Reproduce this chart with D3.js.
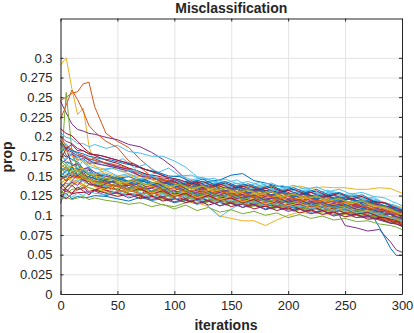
<!DOCTYPE html>
<html>
<head>
<meta charset="utf-8">
<script src="https://cdn.jsdelivr.net/npm/d3@7"></script>
<style>
  body { margin: 0; background: #fff; }
  svg text { font-family: "Liberation Sans", Arial, Helvetica, sans-serif; fill: #262626; }
</style>
</head>
<body>
<div id="chart"></div>
<script>
// iterations at which the runs were sampled (two sampling grids)
const iterations = [0, 5, 10, 15, 20, 25, 30, 40, 50, 60, 70, 80, 90, 100, 110, 120, 130, 140, 150, 160, 170, 180, 190, 200, 210, 220, 230, 240, 250, 260, 270, 280, 290, 295, 300];
const iterationsB = [0, 5, 10, 15, 20, 25, 35, 45, 55, 65, 75, 85, 95, 105, 115, 125, 135, 145, 155, 165, 175, 185, 195, 205, 215, 225, 235, 245, 255, 265, 275, 285, 292, 296, 300];

// misclassification proportion per run, in thousandths
const run00 = [192,176,171,168,159,161,150, 152,147,149,144,148,146,141, 143,139,142,137,139,134,136, 131,133,127,130,125,127,122, 124,119,117,113,110,106,104];
const run01 = [246,250,255,257,267,269,238, 204,194,186,171,159,151,142, 139,133,132,128,127,123,123, 119,119,116,116,112,113,109, 109,105,104,99,98,93,92];
const run02 = [291,300,261,228,236,188,163, 151,145,143,139,140,137,138, 136,137,135,137,134,136,137, 136,137,135,137,134,136,135, 135,133,133,135,134,131,128];
const run03 = [245,230,216,209,207,204,203, 199,196,190,187,180,171,160, 146,137,134,129,129,125,125, 121,122,118,119,115,116,112, 112,108,107,102,101,97,96];
const run04 = [150,256,182,158,152,144,141, 135,133,127,125,118,113,111, 116,121,118,118,115,116,112, 113,110,111,108,109,106,107, 103,103,99,99,94,95,91];
const run05 = [205,199,197,191,191,187,190, 185,189,181,179,175,175,169, 161,149,146,139,138,133,133, 129,129,125,125,121,121,117, 116,111,111,107,106,102,101];
const run06 = [170,185,163,166,152,158,146, 144,131,141,126,137,139,131, 121,131,125,135,122,129,116, 124,112,119,121,111,117,108, 110,114,101,106,97,101,94];
const run07 = [125,128,121,124,122,123,125, 124,121,118,123,119,121,116, 119,114,118,112,116,110,114, 108,111,107,109,104,106,101, 103,100,97,95,90,92,88];
const run08 = [222,240,259,247,232,214,206, 194,186,169,161,149,146,139, 137,133,134,130,130,126,127, 123,124,120,121,117,118,114, 114,110,110,105,104,100,99];
const run09 = [160,151,144,141,137,135,132, 131,127,128,124,125,121,121, 117,116,111,99,96,93,93, 87,94,100,104,102,103,100, 101,97,98,94,94,90,90];
const run10 = [115,136,144,151,147,146,141, 141,137,138,134,134,131,131, 127,128,125,125,122,123,119, 120,117,118,115,116,112,113, 87,84,80,82,66,56,53];
const run11 = [140,146,149,148,143,139,139, 132,136,129,134,126,131,124, 128,122,126,125,117,120,121, 113,118,112,116,108,113,109, 104,106,103,98,97,93,95];
const run12 = [155,163,169,176,167,161,154, 151,144,143,139,140,137,137, 133,126,111,98,108,116,116, 117,113,114,111,112,109,110, 106,106,102,102,97,97,94];
const run13 = [180,174,178,170,172,166,168, 163,160,158,152,150,146,139, 144,137,140,134,138,131,134, 129,132,126,128,123,125,119, 121,116,117,110,108,104,103];
const run14 = [160,157,163,164,159,154,153, 147,147,143,144,140,141,138, 139,140,143,145,151,153,144, 141,137,136,129,129,125,125, 121,119,110,85,58,49,49];
const run15 = [135,141,137,143,139,130,135, 128,132,124,129,121,127,119, 124,117,122,114,119,113,116, 109,113,106,111,104,108,101, 104,99,100,95,92,89,88];
const run16 = [175,169,166,159,159,154,151, 154,149,151,146,149,143,146, 141,144,139,141,136,139,134, 137,131,134,129,131,126,128, 123,125,120,118,114,112,110];
const run17 = [200,194,191,185,182,178,176, 172,168,165,158,154,146,143, 134,139,131,136,128,133,125, 130,122,127,119,124,117,121, 113,117,109,111,105,104,101];
const run18 = [120,123,120,122,124,120,122, 119,117,114,116,111,114,108, 113,106,110,104,107,102,105, 100,103,97,101,96,99,94, 96,92,93,89,87,85,82];
const run19 = [185,191,181,179,173,171,167, 166,172,160,165,154,160,150, 151,145,147,141,145,137,142, 134,138,131,135,128,132,125, 128,121,123,115,112,110,107];
const run20 = [210,204,201,194,186,180,176, 170,166,160,155,150,141,144, 133,139,130,134,126,131,123, 128,121,125,118,122,115,118, 112,114,107,108,101,102,96];
const run21 = [145,151,154,153,149,149,145, 145,140,141,145,139,141,136, 142,134,138,131,136,129,133, 126,130,124,127,121,124,119, 121,116,118,112,110,108,105];
const run22 = [155,161,149,148,144,143,139, 135,139,131,136,128,132,125, 129,122,126,119,123,117,120, 114,118,111,115,109,112,106, 109,103,104,99,95,96,92];
const run23 = [130,136,139,146,149,153,147, 145,139,142,134,139,131,136, 129,133,126,130,123,128,120, 125,118,122,116,119,113,116, 110,113,107,108,103,101,100];
const run24 = [165,171,178,173,176,170,172, 166,162,158,150,146,145,135, 141,132,138,129,134,126,131, 124,128,121,125,118,122,116, 118,112,113,108,104,103,99];
const run25 = [195,184,176,164,159,151,149, 142,141,136,130,132,124,128, 120,125,118,122,115,119,112, 116,110,113,107,111,104,108, 102,104,98,99,93,94,90];
const run26 = [140,137,143,144,144,140,140, 136,140,132,137,130,134,127, 131,124,129,122,126,120,124, 117,121,114,119,112,116,109, 114,106,110,102,103,98,99];
const run27 = [150,144,149,149,148,143,143, 139,134,135,130,131,127,128, 124,126,121,123,119,120,116, 118,113,115,111,112,108,110, 105,106,101,100,96,95,93];
const run28 = [170,167,166,159,157,151,150, 145,149,140,146,138,143,135, 141,133,139,131,137,129,134, 127,132,124,129,122,126,119, 123,116,119,112,111,106,107];
const run29 = [125,131,127,133,134,139,135, 134,130,126,128,122,125,119, 122,117,120,114,117,111,115, 109,112,106,110,104,107,101, 104,99,100,94,93,90,89];
const run30 = [185,181,175,172,168,165,162, 158,160,152,149,145,140,131, 137,128,134,125,131,123,128, 120,125,118,122,115,119,113, 116,109,112,105,104,100,98];
const run31 = [135,143,149,156,159,159,151, 148,142,145,136,141,133,138, 130,134,127,131,124,128,121, 126,118,122,116,119,113,117, 110,113,106,108,101,102,97];
const run32 = [160,166,157,153,147,146,142, 141,136,131,132,127,129,124, 127,121,124,118,122,116,119, 113,116,111,113,108,111,105, 108,102,104,97,96,92,93];
const run33 = [175,171,179,174,170,168,165, 162,158,156,151,148,148,141, 146,139,143,137,141,134,138, 131,135,128,132,126,129,123, 126,120,121,115,113,110,108];
const run34 = [145,149,151,151,145,143,138, 134,138,130,134,127,131,124, 128,121,125,119,122,116,120, 113,117,111,114,108,112,105, 109,102,104,98,95,93,91];
const run35 = [150,156,159,159,151,149,144, 142,147,138,144,136,142,134, 139,132,137,130,134,128,132, 125,129,123,127,120,124,117, 121,114,116,110,106,104,101];
const run36 = [165,159,156,149,148,143,142, 138,137,133,127,129,124,126, 122,124,119,121,117,119,114, 116,112,113,109,111,106,108, 103,105,99,97,94,92,90];
const run37 = [140,146,147,153,146,144,139, 139,143,135,140,133,138,131, 136,129,134,127,131,125,129, 122,127,120,124,117,121,115, 118,112,114,108,105,103,100];
const run38 = [190,184,180,176,174,170,166, 163,160,156,150,149,141,146, 139,143,136,140,134,137,131, 135,128,132,126,129,123,126, 120,122,116,113,110,107,105];
const run39 = [130,127,133,134,139,135,131, 127,131,124,128,120,125,118, 122,115,119,113,117,110,114, 108,111,105,109,103,106,100, 103,97,99,93,91,89,86];
const run40 = [160,154,151,153,159,154,153, 157,150,153,146,150,143,147, 141,145,138,142,136,140,134, 138,131,135,129,132,126,130, 124,126,120,118,114,112,108];
const run41 = [125,121,127,129,129,130,134, 130,126,127,122,125,119,122, 117,121,115,118,112,116,110, 113,108,111,105,109,103,106, 100,103,96,98,91,92,87];
const run42 = [155,148,162,150,156,145,151, 140,146,135,142,130,137,128, 134,126,130,124,128,121,126, 119,123,116,120,113,117,110, 114,107,110,104,101,98,96];
const run43 = [200,188,184,178,176,172,168, 165,162,155,150,145,144,136, 140,133,137,130,133,127,131, 124,128,121,125,118,121,115, 117,112,113,107,104,101,99];
const run44 = [145,152,140,148,138,146,136, 133,139,130,136,128,133,125, 130,122,127,120,124,117,122, 114,119,112,116,109,113,106, 110,103,106,100,97,95,92];
const run45 = [128,135,142,138,146,140,137, 143,136,140,133,137,129,134, 127,131,124,128,121,125,119, 122,116,120,114,117,111,114, 108,111,104,105,100,98,95];
const run46 = [170,162,155,158,150,146,143, 137,141,133,138,130,135,128, 132,125,129,123,127,120,124, 117,121,115,118,112,115,109, 112,106,107,102,98,97,94];
const run47 = [150,158,166,160,170,162,158, 160,155,158,150,154,148,151, 145,148,142,146,140,143,138, 141,135,138,133,136,130,133, 127,129,124,122,117,115,112];
const run48 = [140,133,128,136,131,126,132, 128,124,127,121,125,118,122, 116,120,113,117,111,115,108, 112,106,110,103,107,101,104, 98,101,95,96,90,89,86];
const run49 = [180,186,182,180,178,175,172, 170,166,163,158,155,150,149, 142,146,139,143,137,140,134, 138,131,135,129,133,126,129, 123,126,118,115,110,108,105];
const run50 = [150,144,155,147,152,148,144, 141,137,140,134,138,132,135, 130,133,127,131,125,129,123, 126,120,124,118,121,115,118, 112,115,109,107,103,101,99];
const run51 = [165,158,163,155,160,152,148, 146,141,144,138,142,136,139, 133,137,131,134,128,132,126, 130,123,127,121,124,118,121, 115,118,111,110,106,103,102];
const run52 = [135,130,138,132,136,128,131, 125,129,122,126,120,124,117, 121,115,119,112,116,110,114, 107,111,105,108,102,106,99, 103,97,99,94,90,89,86];
const run53 = [155,162,150,157,147,153,144, 149,142,146,139,143,137,140, 134,138,132,135,129,133,127, 131,124,128,122,125,119,122, 116,119,113,111,107,104,101];
const run54 = [120,126,123,128,125,131,128, 126,131,124,129,122,127,120, 125,118,123,116,120,114,118, 112,116,110,113,108,111,105, 109,103,105,100,97,95,93];
const run55 = [195,185,190,182,182,178,176, 172,168,163,158,153,148,145, 140,143,137,141,135,138,132, 136,130,133,127,131,124,128, 121,124,117,116,111,109,106];

const runs = [run00, run01, run02, run03, run04, run05, run06, run07, run08, run09,
  run10, run11, run12, run13, run14, run15, run16, run17, run18, run19,
  run20, run21, run22, run23, run24, run25, run26, run27, run28, run29,
  run30, run31, run32, run33, run34, run35, run36, run37, run38, run39,
  run40, run41, run42, run43, run44, run45, run46, run47, run48, run49,
  run50, run51, run52, run53, run54, run55];

// runs whose samples sit on the second grid
const runsOnGridB = [run11, run13, run15, run17, run19, run21, run23, run25, run27, run29,
  run31, run33, run35, run37, run39, run41, run43, run45, run47, run49, run51, run53, run55];

const xTicks = [0, 50, 100, 150, 200, 250, 300];
const yTicks = [0, 0.025, 0.05, 0.075, 0.1, 0.125, 0.15, 0.175, 0.2, 0.225, 0.25, 0.275, 0.3];

// matlab default line colours
const lineColors = ["#0072BD", "#D95319", "#EDB120", "#7E2F8E", "#77AC30", "#4DBEEE", "#A2142F"];

const width = 414, height = 333;
const plotLeft = 60.5, plotRight = 402, plotTop = 18.5, plotBottom = 294;

const svg = d3.select("#chart")
  .append("svg")
  .attr("width", width)
  .attr("height", height);

const x = d3.scaleLinear().domain([0, 300]).range([plotLeft, plotRight]);
const y = d3.scaleLinear().domain([0, 0.35]).range([plotBottom, plotTop]);

// grid
svg.append("g")
  .attr("transform", `translate(0,${plotBottom})`)
  .call(d3.axisBottom(x).tickValues(xTicks).tickSize(-(plotBottom - plotTop)).tickFormat(""))
  .call((g) => g.select(".domain").remove())
  .call((g) => g.selectAll("line").attr("stroke", "#e3e3e3"));

svg.append("g")
  .attr("transform", `translate(${plotLeft},0)`)
  .call(d3.axisLeft(y).tickValues(yTicks).tickSize(-(plotRight - plotLeft)).tickFormat(""))
  .call((g) => g.select(".domain").remove())
  .call((g) => g.selectAll("line").attr("stroke", "#e3e3e3"));

// lines
const series = runs.map((values, i) => ({
  values: values,
  iters: runsOnGridB.includes(values) ? iterationsB : iterations,
  color: lineColors[i % lineColors.length],
}));

const line = (s) =>
  d3.line()
    .x((d, i) => x(s.iters[i]))
    .y((d) => y(d / 1000))(s.values);

svg.append("g")
  .attr("fill", "none")
  .attr("stroke-width", 1)
  .attr("stroke-linejoin", "round")
  .selectAll("path")
  .data(series)
  .join("path")
  .attr("stroke", (d) => d.color)
  .attr("d", line);

// box + ticks pointing inward
const fmt = d3.format("~g");
const styleAxis = (g) => {
  g.select(".domain").attr("stroke", "#262626");
  g.selectAll(".tick line").attr("stroke", "#262626");
  g.selectAll("text")
    .style("font-family", '"Liberation Sans", Arial, sans-serif')
    .style("font-size", "13px")
    .attr("fill", "#262626");
};

svg.append("g")
  .attr("transform", `translate(0,${plotBottom})`)
  .call(d3.axisBottom(x).tickValues(xTicks).tickSizeInner(-3).tickSizeOuter(0).tickPadding(7).tickFormat(fmt))
  .call(styleAxis);

svg.append("g")
  .attr("transform", `translate(${plotLeft},0)`)
  .call(d3.axisLeft(y).tickValues(yTicks).tickSizeInner(-3).tickSizeOuter(0).tickPadding(8).tickFormat(fmt))
  .call(styleAxis);

svg.append("g")
  .attr("transform", `translate(0,${plotTop})`)
  .call(d3.axisTop(x).tickValues(xTicks).tickSizeInner(-3).tickSizeOuter(0).tickFormat(""))
  .call(styleAxis);

svg.append("g")
  .attr("transform", `translate(${plotRight},0)`)
  .call(d3.axisRight(y).tickValues(yTicks).tickSizeInner(-3).tickSizeOuter(0).tickFormat(""))
  .call(styleAxis);

// titles
svg.append("text")
  .attr("x", (plotLeft + plotRight) / 2)
  .attr("y", 13)
  .attr("text-anchor", "middle")
  .style("font-size", "14px")
  .style("font-weight", "bold")
  .text("Misclassification");

svg.append("text")
  .attr("x", 226)
  .attr("y", 330)
  .attr("text-anchor", "middle")
  .style("font-size", "14px")
  .style("font-weight", "bold")
  .text("iterations");

svg.append("text")
  .attr("transform", `translate(12,157) rotate(-90)`)
  .attr("text-anchor", "middle")
  .style("font-size", "14px")
  .style("font-weight", "bold")
  .text("prop");
</script>
</body>
</html>
